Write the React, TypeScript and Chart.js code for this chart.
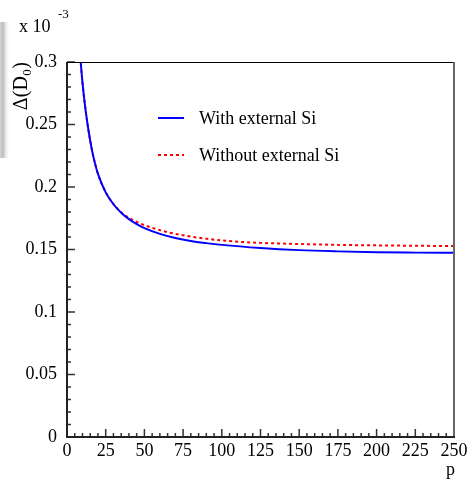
import { useEffect, useRef } from "react";
import { Chart, registerables } from "chart.js";

Chart.register(...registerables);

const pValues = [8, 10, 12, 14, 16, 18, 20, 25, 30, 35, 40, 45, 50, 60, 70, 80, 90, 100, 125, 150, 175, 200, 225, 250];
const withSi = [0.3128, 0.2835, 0.2615, 0.2444, 0.2303, 0.2193, 0.2105, 0.1957, 0.1862, 0.1794, 0.1743, 0.1703, 0.1671, 0.1625, 0.1592, 0.1568, 0.1551, 0.1537, 0.1512, 0.1495, 0.1485, 0.1478, 0.1475, 0.1473];
const withoutSi = [0.3128, 0.2835, 0.2615, 0.2444, 0.2303, 0.2193, 0.2105, 0.1957, 0.1864, 0.1798, 0.1753, 0.172, 0.1695, 0.1655, 0.1625, 0.1603, 0.1586, 0.1572, 0.1553, 0.1544, 0.1537, 0.1533, 0.153, 0.1527];
const xTickValues = [0, 25, 50, 75, 100, 125, 150, 175, 200, 225, 250];
const yTickValues = [0, 0.05, 0.1, 0.15, 0.2, 0.25, 0.3];
const yTickLabels = ["0", "0.05", "0.1", "0.15", "0.2", "0.25", "0.3"];
const seriesLabels = ["With external Si", "Without external Si"];
const xTitle = "p";

const FONT = "'Liberation Serif', 'DejaVu Serif', serif";

const decorPlugin = {
  id: "decor",
  beforeDraw(chart: any) {
    const ctx = chart.ctx;
    ctx.save();
    const g = ctx.createLinearGradient(0, 0, 10, 0);
    g.addColorStop(0, "#d6d6d6");
    g.addColorStop(0.3, "#bdbdbd");
    g.addColorStop(1, "rgba(255,255,255,0)");
    ctx.fillStyle = g;
    ctx.fillRect(0, 22, 10, 136);
    ctx.restore();
  },
  afterDraw(chart: any) {
    const ctx = chart.ctx;
    const { left, right, top, bottom } = chart.chartArea;
    const xs = chart.scales.x;
    const ys = chart.scales.y;
    ctx.save();
    // ticks
    ctx.strokeStyle = "#333";
    ctx.lineWidth = 1.5;
    ctx.beginPath();
    for (let v = xs.min; v <= xs.max + 1e-9; v += 5) {
      const px = xs.getPixelForValue(v);
      const len = Math.abs(v % 25) < 1e-6 ? 8 : 4;
      ctx.moveTo(px, bottom);
      ctx.lineTo(px, bottom - len);
    }
    for (let i = 0; i <= 30; i++) {
      const v = i * 0.01;
      const py = ys.getPixelForValue(v);
      const len = i % 5 === 0 ? 8 : 4;
      ctx.moveTo(left, py);
      ctx.lineTo(left + len, py);
    }
    ctx.stroke();
    // frame
    ctx.strokeStyle = "#000";
    ctx.lineWidth = 1;
    ctx.beginPath();
    ctx.moveTo(left, top + 0.5);
    ctx.lineTo(right, top + 0.5);
    ctx.stroke();
    ctx.strokeStyle = "#666";
    ctx.lineWidth = 2;
    ctx.beginPath();
    ctx.moveTo(right, top);
    ctx.lineTo(right, bottom);
    ctx.stroke();
    ctx.strokeStyle = "#222";
    ctx.lineWidth = 2;
    ctx.beginPath();
    ctx.moveTo(left, top);
    ctx.lineTo(left, bottom);
    ctx.lineTo(right + 1, bottom);
    ctx.stroke();

    // legend
    const ds = chart.data.datasets;
    const legendY = [118, 155];
    ds.forEach((d: any, i: number) => {
      ctx.strokeStyle = d.borderColor;
      ctx.lineWidth = 2;
      ctx.setLineDash(d.borderDash || []);
      ctx.beginPath();
      ctx.moveTo(158, legendY[i]);
      ctx.lineTo(184, legendY[i]);
      ctx.stroke();
      ctx.setLineDash([]);
      ctx.fillStyle = "#000";
      ctx.font = `18px ${FONT}`;
      ctx.textBaseline = "middle";
      ctx.textAlign = "left";
      ctx.fillText(d.label, 199, legendY[i] + 1);
    });

    // x title
    ctx.fillStyle = "#000";
    ctx.font = `18px ${FONT}`;
    ctx.textBaseline = "alphabetic";
    ctx.textAlign = "right";
    ctx.fillText(xTitle, 455, 475);

    // exponent label
    ctx.textAlign = "left";
    ctx.font = `18px ${FONT}`;
    ctx.fillText("x 10", 19, 32);
    ctx.font = `13px ${FONT}`;
    ctx.fillText("-3", 58, 18);

    // y title rotated
    ctx.save();
    ctx.translate(27, 62);
    ctx.rotate(-Math.PI / 2);
    ctx.font = `20px ${FONT}`;
    const w1 = ctx.measureText("\u0394(D").width;
    const w3 = ctx.measureText(")").width;
    ctx.font = `13px ${FONT}`;
    const w2 = ctx.measureText("0").width;
    const total = w1 + w2 + w3 + 1;
    const x0 = -total;
    ctx.font = `20px ${FONT}`;
    ctx.textAlign = "left";
    ctx.fillText("\u0394(D", x0, 0);
    ctx.font = `13px ${FONT}`;
    ctx.fillText("0", x0 + w1 + 0.5, 4);
    ctx.font = `20px ${FONT}`;
    ctx.fillText(")", x0 + w1 + w2 + 1, 0);
    ctx.restore();

    ctx.restore();
  },
};

export default function App() {
  const ref = useRef<HTMLCanvasElement | null>(null);
  useEffect(() => {
    if (!ref.current) return;
    const chart = new Chart(ref.current, {
      type: "line",
      data: {
        datasets: [
          {
            label: seriesLabels[0],
            data: pValues.map((p, i) => ({ x: p, y: withSi[i] })),
            borderColor: "#0000ff",
            borderWidth: 2,
            pointRadius: 0,
            cubicInterpolationMode: "monotone",
            fill: false,
          },
          {
            label: seriesLabels[1],
            data: pValues.map((p, i) => ({ x: p, y: withoutSi[i] })),
            borderColor: "#ff0000",
            borderWidth: 2,
            borderDash: [3, 3],
            pointRadius: 0,
            cubicInterpolationMode: "monotone",
            fill: false,
          },
        ],
      },
      options: {
        animation: false,
        responsive: false,
        devicePixelRatio: 1,
        layout: { padding: { left: 0, top: 62, right: 17, bottom: 0 } },
        plugins: { legend: { display: false }, tooltip: { enabled: false } },
        scales: {
          x: {
            type: "linear",
            min: 0,
            max: 250,
            grid: { display: false, drawTicks: false },
            border: { display: false },
            afterBuildTicks: (s: any) => {
              s.ticks = xTickValues.map((v) => ({ value: v }));
            },
            afterFit: (s: any) => {
              s.height = 44;
            },
            ticks: {
              color: "#000",
              font: { family: FONT, size: 18 },
              padding: 3,
              maxRotation: 0,
              autoSkip: false,
              callback: (v: any) => String(v),
            },
          },
          y: {
            type: "linear",
            min: 0,
            max: 0.3,
            grid: { display: false, drawTicks: false },
            border: { display: false },
            afterBuildTicks: (s: any) => {
              s.ticks = yTickValues.map((v) => ({ value: v }));
            },
            afterFit: (s: any) => {
              s.width = 67;
            },
            ticks: {
              color: "#000",
              font: { family: FONT, size: 18 },
              padding: 10,
              autoSkip: false,
              callback: (_v: any, i: number) => yTickLabels[i],
            },
          },
        },
      },
      plugins: [decorPlugin],
    });
    return () => chart.destroy();
  }, []);
  return (
    <div style={{ position: "absolute", left: 0, top: 0, width: 471, height: 481, background: "#fff" }}>
      <canvas ref={ref} width={471} height={481} style={{ width: 471, height: 481, display: "block" }} />
    </div>
  );
}
